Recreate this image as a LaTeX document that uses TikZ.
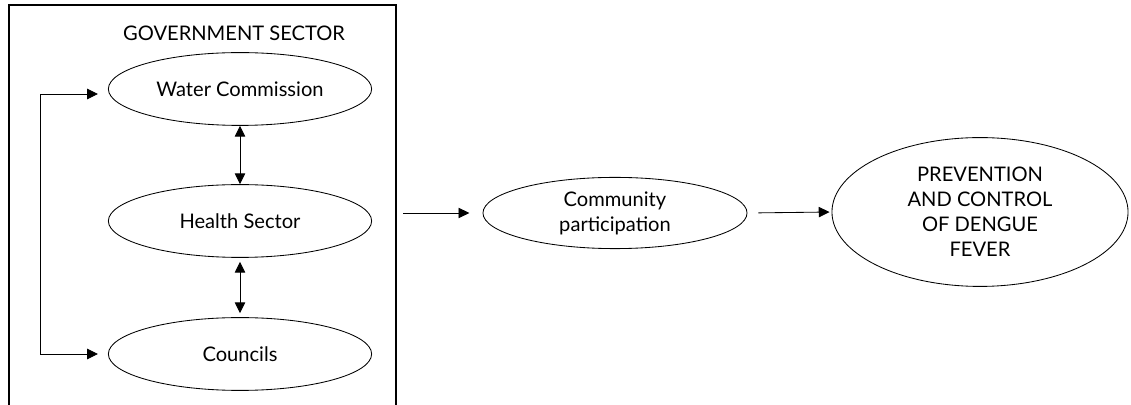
\documentclass[tikz,border=0pt]{standalone}
\usepackage{fontspec}
\setmainfont{Lato}
\usetikzlibrary{shapes.geometric,arrows.meta,positioning}

\tikzset{
  bubble/.style={draw, ellipse, line width=0.6pt, inner sep=0pt,
    minimum width=6.58cm, minimum height=1.82cm, align=center,
    font=\fontsize{14.3}{17.8}\selectfont},
  link/.style={line width=0.6pt, -{Triangle[length=2.7mm,width=2.6mm]}},
  dbl/.style={line width=0.6pt, {Triangle[length=2.7mm,width=2.6mm]}-{Triangle[length=2.7mm,width=2.6mm]}},
}

\begin{document}
\begin{tikzpicture}[x=0.025cm,y=-0.025cm]
	\useasboundingbox (0,0) rectangle (1131,405);
	% government sector frame, open at the bottom
	\draw[line width=0.8pt] (9,405) -- (9,5) -- (396,5) -- (396,405);
	\node[font=\fontsize{14.3}{17}\selectfont] (govlabel) at (234,33) {GOVERNMENT SECTOR};
	\node[bubble] (water) at (240,89) {Water Commission};
	\node[bubble] (health) at (240,221) {Health Sector};
	\node[bubble] (councils) at (240,354) {Councils};
	\coordinate (govedge) at (396,213);
	\node[bubble, minimum width=6.6cm, minimum height=1.78cm] (community) at (615,213) {Community\\participation};
	\node[bubble, minimum width=7.4cm, minimum height=3.72cm] (prevention) at (980,212)
	{PREVENTION\\AND CONTROL\\OF DENGUE\\FEVER};
	% links inside the sector
	\draw[dbl] (water.south) -- (health.north);
	\draw[dbl, shorten <=0.1cm, shorten >=0.1cm] (health.south) -- (councils.north);
	\draw[dbl, shorten <=0.25cm, shorten >=0.25cm]
	([yshift=-0.125cm]water.west) -- ++(-68,0) |- (councils.west);
	% towards the outcome
	\draw[link, shorten >=0.33cm] ([xshift=0.175cm]govedge) -- (community.west);
	\draw[link, shorten <=0.27cm, shorten >=0.05cm] (community.east) -- (prevention.west);
\end{tikzpicture}
\end{document}
